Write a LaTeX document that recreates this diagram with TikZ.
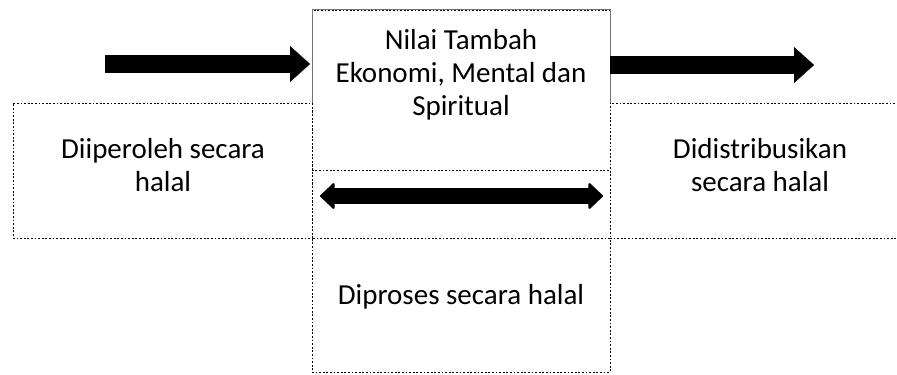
\documentclass[tikz,border=0pt]{standalone}
\usepackage{fontspec}
\setmainfont{Carlito}
\usetikzlibrary{arrows.meta,positioning}
\tikzset{
    %Define standard arrow tip
    >={Triangle[length=10pt,width=18pt,line width=0.1pt]},
    %Define style for dotted boxes
    kotak/.style={
           rectangle,
           draw=black,
           line width=0.45pt,
           dash pattern=on 0.9pt off 0.9pt,
           fill=white,
           inner sep=0pt,
           outer sep=0pt,
           minimum width=149pt},
    % Define style for texts
    teks/.style={
           align=center,
           inner sep=0pt,
           font=\fontsize{14.5}{16.5}\selectfont},
    % Define block arrow style
    panah/.style={
           ->,
           line width=9pt},
    % Define double block arrow style
    panahdua/.style={
           {Triangle[round,length=7.5pt,width=14pt,line width=1pt]}-{Triangle[round,length=7.5pt,width=14pt,line width=1pt]},
           line width=8pt},
    % Define solid frame style
    garis/.style={
           draw=black!55,
           line width=0.5pt}
}

\begin{document}
\begin{tikzpicture}[x=0.5pt,y=-0.5pt]
  \useasboundingbox (0,0) rectangle (897,374);
  % boxes
  \node[kotak,minimum height=80pt] (nilai) at (461,90) {};
  \node[kotak,minimum height=34pt,below=0pt of nilai] (tengah) {};
  \node[kotak,minimum height=67pt,below=0pt of tengah] (proses) {};
  \node[kotak,minimum height=67.5pt,minimum width=149.5pt,anchor=south east] (peroleh) at (tengah.south west) {};
  \node[kotak,minimum height=67.5pt,minimum width=150pt,anchor=south west] (sebar) at (tengah.south east) {};
  \draw[garis] (peroleh.north east) |- (nilai.north east) -- (sebar.north west);
  % texts
  \node[teks] (tnilai) at (461,75) {Nilai Tambah\\Ekonomi, Mental dan\\Spiritual};
  \node[teks] (tperoleh) at (163,165) {Diiperoleh secara\\halal};
  \node[teks] (tsebar) at (760,165) {Didistribusikan\\secara halal};
  \node[teks] (tproses) at (461,297) {Diproses secara halal};
  % arrows
  \coordinate (mulai) at (105,64);
  \coordinate (akhir) at (814,65);
  \coordinate (kiri) at (320,196);
  \coordinate (kanan) at (603,196);
  \draw[panah,shorten >=1pt] (mulai) -- (mulai -| nilai.west);
  \draw[panah] (nilai.east |- akhir) -- (akhir);
  \draw[panahdua] (kiri) -- (kanan);
\end{tikzpicture}
\end{document}
